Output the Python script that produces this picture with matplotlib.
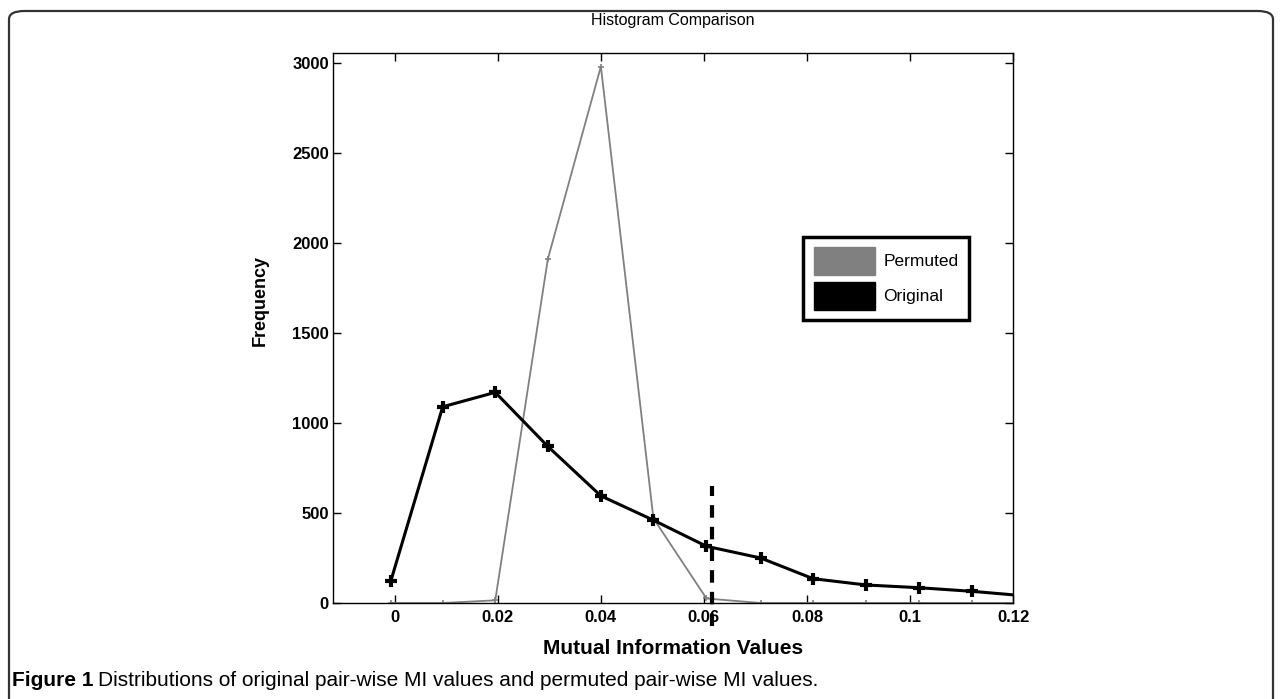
import numpy as np
import matplotlib
matplotlib.use("Agg")
import matplotlib.pyplot as plt
from matplotlib.patches import FancyBboxPatch, Patch

# bin centres (MI values) and counts
mi_bins = [-0.0008, 0.0093, 0.0195, 0.0297, 0.0400, 0.0502, 0.0605, 0.0710, 0.0812, 0.0915, 0.1017, 0.1120, 0.1222]
original = [120, 1090, 1170, 870, 595, 460, 315, 250, 135, 100, 85, 65, 40]
permuted = [0, 0, 15, 1910, 2980, 470, 25, 0, 0, 0, 0, 0, 0]

threshold = 0.0615
threshold_span = [-130, 650]

x_ticks = [0, 0.02, 0.04, 0.06, 0.08, 0.1, 0.12]
x_tick_labels = ["0", "0.02", "0.04", "0.06", "0.08", "0.1", "0.12"]
y_ticks = [0, 500, 1000, 1500, 2000, 2500, 3000]

plt.rcParams['font.family'] = ['Liberation Sans', 'DejaVu Sans']

W, H = 1281, 699
fig = plt.figure(figsize=(W / 100, H / 100), dpi=100)

# rounded frame around the figure (bottom edge runs off the image)
frame = FancyBboxPatch((9 / W, -60 / H), 1264 / W, (H - 11 + 60) / H,
                       boxstyle="round,pad=0,rounding_size=0.012",
                       transform=fig.transFigure, fill=False,
                       edgecolor="#333333", linewidth=1.6, clip_on=False)
fig.patches.append(frame)

ax = fig.add_axes([333 / W, 1 - 603 / H, 680 / W, 550 / H])

gray = "#808080"
ax.plot(mi_bins, permuted, color=gray, lw=1.3, marker="+", ms=5, mew=1.2, zorder=2)
ax.plot(mi_bins, original, color="black", lw=2.2, marker="+", ms=9, mew=3, zorder=3)
ax.plot([threshold, threshold], threshold_span, color="black", lw=3,
        linestyle=(0, (3, 2.2)), clip_on=False, zorder=4)

ax.set_xlim(-0.012, 0.12)
ax.set_ylim(0, 3055)
ax.set_xticks(x_ticks)
ax.set_xticklabels(x_tick_labels)
ax.set_yticks(y_ticks)
ax.tick_params(direction="in", length=6, width=1, top=True, right=True,
               labelsize=12, pad=5)
ax.tick_params(axis="y", pad=3)
for lab in ax.get_xticklabels() + ax.get_yticklabels():
    lab.set_fontweight("bold")
for sp in ax.spines.values():
    sp.set_linewidth(1)

ax.set_title("Histogram Comparison", fontsize=11.5, pad=20)
ax.set_xlabel("Mutual Information Values", fontsize=15, fontweight="bold", labelpad=10)
ax.set_ylabel("Frequency", fontsize=13, fontweight="bold")
ax.yaxis.set_label_coords(-0.095, 0.55)

handles = [Patch(facecolor=gray, edgecolor=gray, label="Permuted"),
           Patch(facecolor="black", edgecolor="black", label="Original")]
leg = ax.legend(handles=handles, loc="upper left", bbox_to_anchor=(0.679, 0.682),
                fontsize=12.5, handlelength=3.5, handleheight=2.1, handletextpad=0.5,
                borderpad=0.6, labelspacing=0.4, fancybox=False, framealpha=1,
                edgecolor="black")
leg.get_frame().set_linewidth(2.5)

cap_y = 1 - 680 / H
t = fig.text(12 / W, cap_y, "Figure 1", fontsize=15, fontweight="bold", va="center", ha="left")
fig.canvas.draw()
bb = t.get_window_extent()
fig.text((bb.x1 + 5) / W, cap_y,
         "Distributions of original pair-wise MI values and permuted pair-wise MI values.",
         fontsize=15, va="center", ha="left")

fig.savefig("out.png", dpi=100)
